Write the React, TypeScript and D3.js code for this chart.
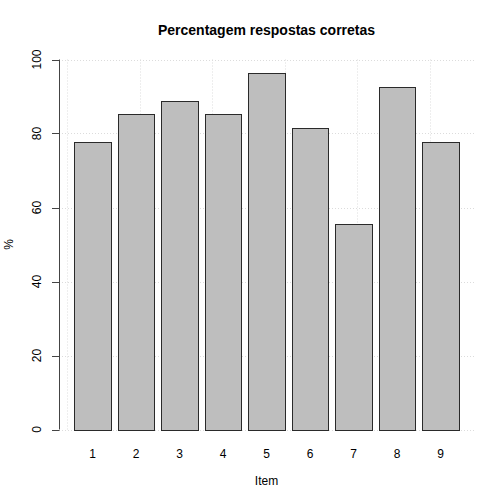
import React from "react";
import * as d3 from "d3";

const categories = ["1", "2", "3", "4", "5", "6", "7", "8", "9"];
const values = [77.8, 85.2, 88.9, 85.2, 96.3, 81.5, 55.6, 92.6, 77.8];
const yTicks = [0, 20, 40, 60, 80, 100];
const xGridUnits = [0, 2, 4, 6, 8, 10];
const title = "Percentagem respostas corretas";
const xLabel = "Item";
const yLabel = "%";

const W = 504;
const H = 504;
const left = 59;
const right = 474;
const top = 59.5;
const bottom = 429.5;
const font = "'Liberation Sans', Arial, Helvetica, sans-serif";

export default function App() {
  const lo = 0.2 - 0.04 * (10.8 - 0.2);
  const hi = 10.8 + 0.04 * (10.8 - 0.2);
  const x = d3.scaleLinear().domain([lo, hi]).range([left, right]);
  const y = d3.scaleLinear().domain([0, 100]).range([bottom, top]);
  const gridStyle = { stroke: "#dcdcdc", strokeWidth: 1, strokeDasharray: "1,2" };

  return (
    <svg width={W} height={H} style={{ position: "absolute", left: 0, top: 0, background: "#fff" }}>
      <rect width={W} height={H} fill="#fff" />
      {yTicks.map((t) => (
        <line key={"gy" + t} x1={left} x2={right} y1={Math.round(y(t)) + 0.5} y2={Math.round(y(t)) + 0.5} {...gridStyle} />
      ))}
      {xGridUnits.map((u) => (
        <line key={"gx" + u} x1={Math.round(x(u)) + 0.5} x2={Math.round(x(u)) + 0.5} y1={top} y2={bottom} {...gridStyle} />
      ))}
      {values.map((v, i) => {
        const x0 = x(0.2 + 1.2 * i);
        const x1 = x(1.2 + 1.2 * i);
        return (
          <rect
            key={i}
            x={Math.round(x0) + 0.5}
            y={Math.round(y(v)) + 0.5}
            width={Math.round(x1) - Math.round(x0)}
            height={Math.round(y(0)) - Math.round(y(v))}
            fill="#bebebe"
            stroke="#2a2a2a"
            strokeWidth={1}
          />
        );
      })}
      {categories.map((c, i) => (
        <text key={c} x={x(0.7 + 1.2 * i)} y={458} textAnchor="middle" fontFamily={font} fontSize={12} fill="#000">
          {c}
        </text>
      ))}
      <line x1={left + 0.5} x2={left + 0.5} y1={y(100)} y2={y(0)} stroke="#444" strokeWidth={1} />
      {yTicks.map((t) => (
        <g key={"ty" + t}>
          <line x1={52} x2={left + 0.5} y1={Math.round(y(t)) + 0.5} y2={Math.round(y(t)) + 0.5} stroke="#444" strokeWidth={1} />
          <text
            transform={`translate(41,${y(t)}) rotate(-90)`}
            textAnchor="middle"
            fontFamily={font}
            fontSize={12}
            fill="#000"
          >
            {t}
          </text>
        </g>
      ))}
      <text x={(left + right) / 2} y={35} textAnchor="middle" fontFamily={font} fontSize={14} fontWeight="bold" fill="#000">
        {title}
      </text>
      <text x={(left + right) / 2} y={485} textAnchor="middle" fontFamily={font} fontSize={12} fill="#000">
        {xLabel}
      </text>
      <text transform={`translate(13,${(top + bottom) / 2}) rotate(-90)`} textAnchor="middle" fontFamily={font} fontSize={12} fill="#000">
        {yLabel}
      </text>
    </svg>
  );
}
